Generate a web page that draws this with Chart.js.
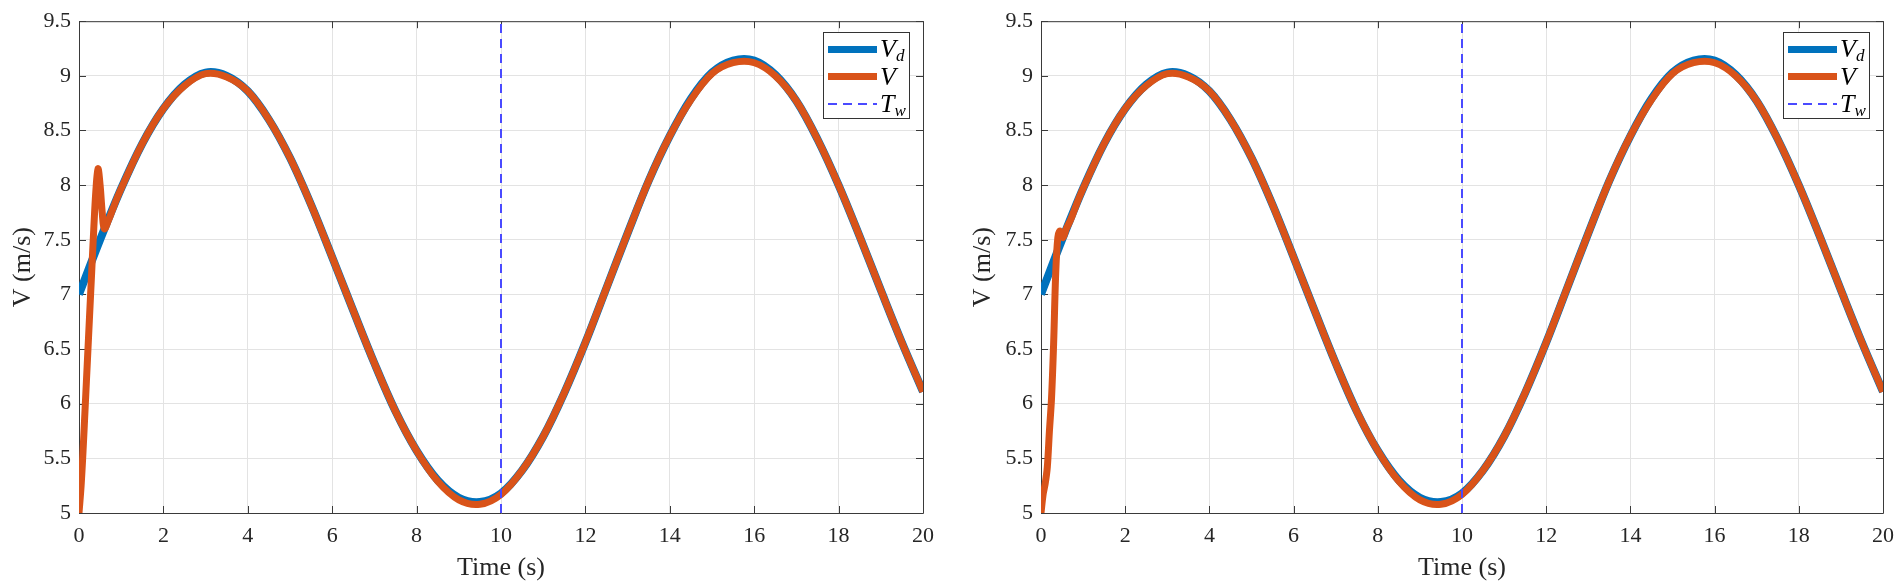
<!DOCTYPE html>
<html>
<head>
<meta charset="utf-8">
<script src="https://cdn.jsdelivr.net/npm/chart.js@4.4.0/dist/chart.umd.min.js"></script>
<style>
  body { margin: 0; background: #fff; }
  .wrap { position: absolute; top: 0; width: 952px; height: 587px; }
  .legend-box {
    position: absolute; width: 87px; height: 87px; box-sizing: border-box;
    border: 1px solid #333; background: #fff; padding: 2px 0 0 4px;
  }
  .legend-row { display: flex; align-items: center; height: 27.7px; }
  .legend-sample { display: inline-block; width: 49px; flex: none; }
  .legend-text { margin-left: 3px; font: italic 26px "Liberation Serif", serif; color: #000; line-height: 1; white-space: nowrap; }
  .legend-text sub { font-size: 17px; vertical-align: -4px; line-height: 0; }
</style>
</head>
<body>
<div class="wrap" id="wrap-1" style="left:0"><canvas id="chart-1" width="952" height="587"></canvas></div>
<div class="wrap" id="wrap-2" style="left:952px"><canvas id="chart-2" width="952" height="587"></canvas></div>
<script>
// axis ticks
const xTicks = [0, 2, 4, 6, 8, 10, 12, 14, 16, 18, 20];
const yTicks = [5, 5.5, 6, 6.5, 7, 7.5, 8, 8.5, 9, 9.5];

// desired speed V_d, read every 0.5 s
const timeGrid = [0, 0.5, 1, 1.5, 2, 2.5, 3, 3.5, 4, 4.5, 5, 5.5, 6, 6.5, 7, 7.5, 8, 8.5, 9, 9.5,
  10, 10.5, 11, 11.5, 12, 12.5, 13, 13.5, 14, 14.5, 15, 15.5, 16, 16.5, 17, 17.5, 18, 18.5, 19, 19.5, 20];
const vdValues = [7.00, 7.50, 7.97, 8.38, 8.70, 8.92, 9.03, 9.00, 8.86, 8.60, 8.25, 7.82, 7.34, 6.85, 6.37, 5.93, 5.57, 5.30, 5.14, 5.10,
  5.18, 5.39, 5.70, 6.10, 6.56, 7.06, 7.56, 8.04, 8.45, 8.79, 9.03, 9.14, 9.14, 9.01, 8.77, 8.42, 8.00, 7.53, 7.04, 6.56, 6.11];

// actual speed V: start-up transient of each run
const vLeftT = [0, 0.05, 0.1, 0.15, 0.2, 0.25, 0.3, 0.35, 0.4, 0.45, 0.5, 0.55, 0.6, 0.7, 0.8, 0.9];
const vLeftV = [5.0, 5.25, 5.6, 6.0, 6.4, 6.8, 7.2, 7.6, 7.95, 8.15, 8.0, 7.75, 7.6, 7.68, 7.78, 7.88];
const vRightT = [0, 0.05, 0.1, 0.15, 0.2, 0.25, 0.3, 0.35, 0.4, 0.45, 0.52, 0.6, 0.7, 0.8, 0.9];
const vRightV = [5.0, 5.17, 5.27, 5.42, 5.75, 6.05, 6.55, 7.2, 7.52, 7.58, 7.52, 7.6, 7.68, 7.78, 7.88];

// actual speed V after the transient (same in both runs)
const vTailT = [1, 1.5, 2, 2.5, 3, 3.5, 4, 4.5, 5, 5.5, 6, 6.5, 7, 7.5, 8, 8.5, 9, 9.5,
  10, 10.5, 11, 11.5, 12, 12.5, 13, 13.5, 14, 14.5, 15, 15.5, 16, 16.5, 17, 17.5, 18, 18.5, 19, 19.5, 20];
const vTailV = [7.97, 8.38, 8.70, 8.91, 9.02, 8.99, 8.86, 8.60, 8.25, 7.82, 7.34, 6.85, 6.37, 5.93, 5.57, 5.29, 5.12, 5.08,
  5.17, 5.39, 5.70, 6.10, 6.56, 7.06, 7.56, 8.04, 8.45, 8.78, 9.02, 9.12, 9.12, 9.00, 8.77, 8.42, 8.00, 7.53, 7.04, 6.56, 6.11];

// switching time T_w
const twTimes = [10, 10];
const twLevels = [5, 9.5];

const SERIF = '"Liberation Serif", "DejaVu Serif", serif';
const INK = '#262626';

function points(ts, vs) {
    return ts.map((t, i) => ({ x: t, y: vs[i] }));
}

function legendLabel(text) {
    const [main, sub] = text.split('_');
    return sub ? `${main}<sub>${sub}</sub>` : main;
}

// box around the axes with inward ticks on all four sides
const boxFrame = {
    id: 'boxFrame',
    beforeDatasetsDraw(chart) {
        const { ctx, chartArea: a, scales: { x, y } } = chart;
        ctx.save();
        ctx.strokeStyle = '#3a3a3a';
        ctx.lineWidth = 1;
        ctx.beginPath();
        ctx.rect(a.left + 0.5, a.top + 0.5, a.right - a.left, a.bottom - a.top);
        xTicks.forEach(v => {
            const px = Math.round(x.getPixelForValue(v)) + 0.5;
            ctx.moveTo(px, a.bottom); ctx.lineTo(px, a.bottom - 7);
            ctx.moveTo(px, a.top); ctx.lineTo(px, a.top + 7);
        });
        yTicks.forEach(v => {
            const py = Math.round(y.getPixelForValue(v)) + 0.5;
            ctx.moveTo(a.left, py); ctx.lineTo(a.left + 7, py);
            ctx.moveTo(a.right, py); ctx.lineTo(a.right - 7, py);
        });
        ctx.stroke();
        ctx.restore();
    }
};

// legend as html so the subscripts are real text
const htmlLegend = {
    id: 'htmlLegend',
    afterUpdate(chart, args, opts) {
        const wrap = document.getElementById(opts.containerID);
        let box = wrap.querySelector('.legend-box');
        if (!box) {
            box = document.createElement('div');
            box.className = 'legend-box';
            wrap.appendChild(box);
        }
        const a = chart.chartArea;
        box.style.left = (a.right - 13 - 87) + 'px';
        box.style.top = (a.top + 11) + 'px';
        box.innerHTML = '';
        chart.data.datasets.forEach(ds => {
            const row = document.createElement('div');
            row.className = 'legend-row';
            const sample = document.createElement('span');
            sample.className = 'legend-sample';
            if (ds.borderDash) {
                sample.style.height = ds.borderWidth + 'px';
                sample.style.background = `repeating-linear-gradient(to right, ${ds.borderColor} 0 9px, transparent 9px 15px)`;
            } else {
                sample.style.height = '7px';
                sample.style.background = ds.borderColor;
            }
            const text = document.createElement('span');
            text.className = 'legend-text';
            text.innerHTML = legendLabel(ds.label);
            row.append(sample, text);
            box.appendChild(row);
        });
    }
};

function makeChart(canvasId, wrapId, vTimes, vValues, frame) {
    return new Chart(document.getElementById(canvasId), {
        type: 'line',
        data: {
            datasets: [
                { label: 'V_d', data: points(timeGrid, vdValues), borderColor: '#0072BD', borderWidth: 8, order: 3 },
                { label: 'V', data: points(vTimes, vValues), borderColor: '#D95319', borderWidth: 7, order: 2 },
                { label: 'T_w', data: points(twTimes, twLevels), borderColor: '#4a4aff', borderWidth: 2, borderDash: [9, 6], tension: 0, order: 1 }
            ]
        },
        options: {
            responsive: false,
            animation: false,
            events: [],
            layout: { padding: { top: 21, right: frame.right, bottom: 0, left: 0 } },
            elements: {
                point: { radius: 0 },
                line: { tension: 0.35, borderCapStyle: 'butt', borderJoinStyle: 'round', fill: false }
            },
            datasets: { line: { clip: 0 } },
            plugins: {
                legend: { display: false },
                tooltip: { enabled: false },
                htmlLegend: { containerID: wrapId }
            },
            scales: {
                x: {
                    type: 'linear', min: 0, max: 20,
                    afterFit: s => { s.height = 74; },
                    afterBuildTicks: s => { s.ticks = xTicks.map(v => ({ value: v })); },
                    grid: { color: '#e3e3e3', drawTicks: false },
                    border: { display: false },
                    ticks: { padding: 10, color: INK, maxRotation: 0, autoSkip: false, font: { family: SERIF, size: 22 }, callback: v => String(v) },
                    title: { display: true, text: 'Time (s)', color: INK, font: { family: SERIF, size: 26, lineHeight: 1.2 }, padding: { top: 0, bottom: 3 } }
                },
                y: {
                    type: 'linear', min: 5, max: 9.5,
                    afterFit: s => { s.width = frame.yWidth; },
                    afterBuildTicks: s => { s.ticks = yTicks.map(v => ({ value: v })); },
                    grid: { color: '#e3e3e3', drawTicks: false },
                    border: { display: false },
                    ticks: { padding: 8, color: INK, autoSkip: false, font: { family: SERIF, size: 22 }, callback: v => String(v) },
                    title: { display: true, text: 'V (m/s)', color: INK, font: { family: SERIF, size: 26, lineHeight: 1.2 }, padding: { top: frame.titlePad, bottom: 0 } }
                }
            }
        },
        plugins: [boxFrame, htmlLegend]
    });
}

makeChart('chart-1', 'wrap-1', vLeftT.concat(vTailT), vLeftV.concat(vTailV), { right: 29, yWidth: 79, titlePad: 8 });
makeChart('chart-2', 'wrap-2', vRightT.concat(vTailT), vRightV.concat(vTailV), { right: 21, yWidth: 89, titlePad: 16 });
</script>
</body>
</html>
